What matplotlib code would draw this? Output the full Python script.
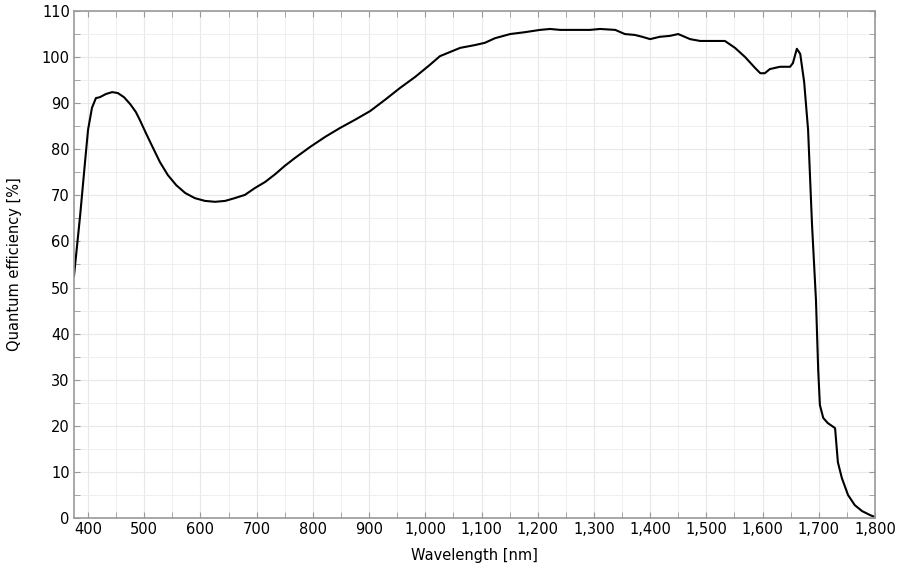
import matplotlib
matplotlib.use("Agg")
import matplotlib.pyplot as plt
from matplotlib.ticker import MultipleLocator, FuncFormatter

wavelength = [375, 386, 395, 400, 407, 414, 421, 432, 443, 453, 464, 475, 485, 492,
              503, 514, 528, 542, 557, 573, 590, 608, 626, 644, 661, 679, 697, 715,
              733, 750, 768, 795, 822, 848, 875, 902, 928, 955, 982, 1008, 1026, 1044,
              1062, 1088, 1106, 1124, 1151, 1177, 1204, 1222, 1240, 1266, 1293, 1311,
              1338, 1355, 1373, 1386, 1400, 1417, 1435, 1450, 1471, 1489, 1515, 1533,
              1551, 1569, 1587, 1596, 1604, 1613, 1631, 1649, 1654, 1661, 1667, 1674,
              1681, 1688, 1695, 1699, 1702, 1708, 1716, 1729, 1734, 1741, 1752, 1764,
              1777, 1791, 1800]
efficiency = [52.5, 65.7, 77.7, 84.2, 89.0, 91.1, 91.3, 92.0, 92.4, 92.2, 91.3, 89.8, 88.1,
              86.4, 83.5, 80.7, 77.2, 74.4, 72.2, 70.5, 69.4, 68.8, 68.6, 68.8, 69.4, 70.1,
              71.6, 72.9, 74.6, 76.4, 78.1, 80.5, 82.7, 84.6, 86.4, 88.3, 90.7, 93.3, 95.7,
              98.3, 100.2, 101.1, 102.0, 102.6, 103.1, 104.1, 105.0, 105.4, 105.9, 106.1,
              105.9, 105.9, 105.9, 106.1, 105.9, 105.0, 104.8, 104.4, 103.9, 104.4, 104.6,
              105.0, 103.9, 103.5, 103.5, 103.5, 102.0, 100.0, 97.6, 96.5, 96.5, 97.4, 97.9,
              97.9, 98.7, 101.8, 100.7, 94.6, 84.2, 63.6, 47.3, 32.1, 24.5, 21.7, 20.6, 19.5,
              12.1, 8.7, 5.0, 2.8, 1.5, 0.65, 0.2]

fig = plt.figure(figsize=(9, 5.73), dpi=100)
ax = fig.add_axes([0.0822, 0.096, 0.89, 0.8848])
ax.plot(wavelength, efficiency, color="black", lw=1.5)
ax.set_xlim(375, 1800)
ax.set_ylim(0, 110)
ax.xaxis.set_major_locator(MultipleLocator(100))
ax.xaxis.set_minor_locator(MultipleLocator(50))
ax.yaxis.set_major_locator(MultipleLocator(10))
ax.yaxis.set_minor_locator(MultipleLocator(5))
ax.xaxis.set_major_formatter(FuncFormatter(lambda v, p: f"{int(v):,}"))
ax.grid(which="major", color="#e8e8e8", lw=0.8)
ax.grid(which="minor", color="#efefef", lw=0.7)
ax.set_axisbelow(True)
for s in ax.spines.values():
    s.set_color("#999999")
    s.set_linewidth(1.2)
ax.tick_params(which="both", direction="in", top=True, right=True, color="#999999",
               labelsize=10.5, pad=3, length=4.5)
ax.set_xlabel("Wavelength [nm]", fontsize=10.5, labelpad=8)
ax.set_ylabel("Quantum efficiency [%]", fontsize=10.5, labelpad=14)
fig.savefig("out.png", dpi=100)
